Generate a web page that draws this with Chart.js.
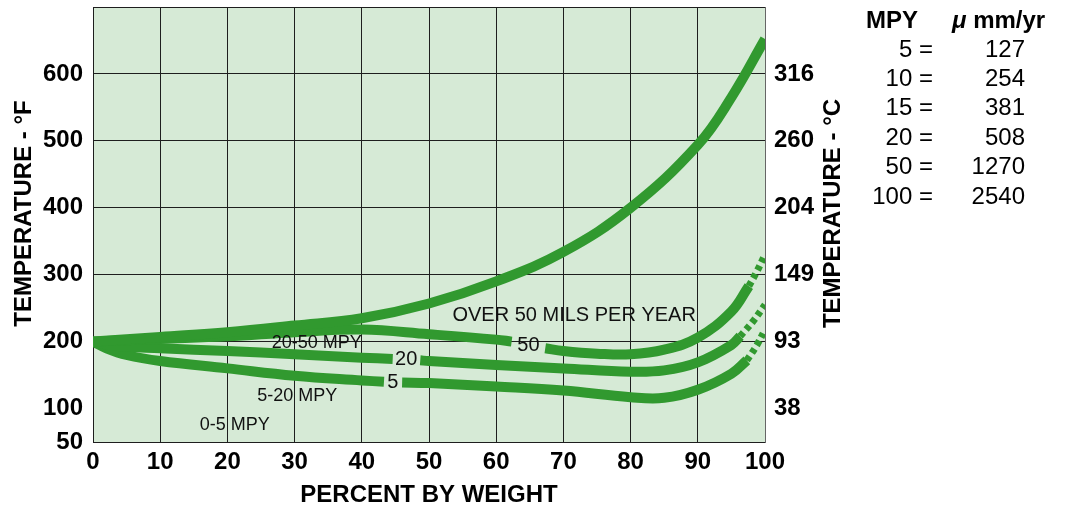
<!DOCTYPE html>
<html>
<head>
<meta charset="utf-8">
<script src="https://cdn.jsdelivr.net/npm/chart.js@4.4.1/dist/chart.umd.min.js"></script>
<style>
  html, body { margin: 0; padding: 0; background: #fff; }
</style>
</head>
<body>
<canvas id="chart" width="1074" height="513"></canvas>
<script>
const FONT = '"Liberation Sans", Arial, Helvetica, sans-serif';
const GREEN = '#31992f';
const GRID = '#1e1e1e';

// axes
const pctTicks = [0, 10, 20, 30, 40, 50, 60, 70, 80, 90, 100];
const degFTicks = [50, 100, 200, 300, 400, 500, 600, 700];
const degCTickF = [100, 200, 300, 400, 500, 600];
const degCLabels = ['38', '93', '149', '204', '260', '316'];

// upper limit of the "over 50 MPY" region
const topPct  = [0, 10, 20, 30, 40, 50, 60, 70, 80, 90, 95, 100];
const topDegF = [200, 207, 214, 224, 235, 257, 290, 334, 400, 494, 565, 652];

// 50 MPY curve (gap where the label sits)
const fiftyPct  = [0, 10, 20, 30, 40, 50, 60, 62.3, 64.8, 67.3, 70, 75, 80, 85, 90, 95, 97.6];
const fiftyDegF = [200, 204, 208, 214, 218, 211, 203, 200, null, 190, 186, 182, 181, 188, 206, 245, 283];
const fiftyDashPct  = [97.6, 98.8, 100];
const fiftyDashDegF = [283, 305, 330];

// 20 MPY curve
const twentyPct  = [0, 3, 10, 20, 30, 40, 44.6, 46.6, 48.7, 50, 60, 70, 80, 85, 90, 95, 96.3];
const twentyDegF = [200, 194, 190, 186, 181, 176, 174, null, 172, 171, 165, 160, 155, 157, 169, 195, 208];
const twentyDashPct  = [96.3, 98.2, 100];
const twentyDashDegF = [208, 230, 255];

// 5 MPY curve
const fivePct  = [0, 2, 5, 10, 20, 30, 40, 43.3, 44.6, 46, 50, 60, 70, 80, 85, 90, 95, 97.3];
const fiveDegF = [200, 190, 180, 171, 160, 149, 142, 140, null, 139, 138, 133, 127, 117, 116, 128, 152, 172];
const fiveDashPct  = [97.3, 98.8, 100];
const fiveDashDegF = [172, 195, 218];

// conversion table
const mpyValues = [5, 10, 15, 20, 50, 100];
const umValues  = [127, 254, 381, 508, 1270, 2540];

// text inside the plot, anchored in data units
const regionText = ['OVER 50 MILS PER YEAR', '20-50 MPY', '5-20 MPY', '0-5 MPY'];
const regionPct  = [71.6, 33.3, 30.4, 21.1];
const regionDegF = [239, 198.5, 118, 75.4];
const curveText = ['50', '20', '5'];
const curvePct  = [64.8, 46.6, 44.6];
const curveDegF = [193.5, 173, 139];

const pts = (xs, ys) => xs.map((x, i) => ({ x: x, y: ys[i] }));

function curve(xs, ys, dashed) {
  return {
    data: pts(xs, ys),
    borderColor: GREEN,
    borderWidth: dashed ? 7 : 10,
    borderDash: dashed ? [5, 4] : [],
    pointRadius: 0,
    fill: false,
    tension: 0.4,
    spanGaps: false,
    yAxisID: 'y'
  };
}

const plotBackground = {
  id: 'plotBackground',
  beforeDraw(chart) {
    const { ctx, chartArea: a } = chart;
    ctx.save();
    ctx.fillStyle = '#d6ead6';
    ctx.fillRect(a.left, a.top, a.right - a.left, a.bottom - a.top);
    ctx.restore();
  }
};

const plotText = {
  id: 'plotText',
  afterDatasetsDraw(chart) {
    const { ctx, scales: { x, y } } = chart;
    ctx.save();
    ctx.fillStyle = '#111';
    ctx.textAlign = 'center';
    ctx.textBaseline = 'middle';
    regionText.forEach((t, i) => {
      ctx.font = (i === 0 ? '20px ' : '18px ') + FONT;
      ctx.fillText(t, x.getPixelForValue(regionPct[i]), y.getPixelForValue(regionDegF[i]));
    });
    ctx.font = '20px ' + FONT;
    curveText.forEach((t, i) => {
      ctx.fillText(t, x.getPixelForValue(curvePct[i]), y.getPixelForValue(curveDegF[i]));
    });
    ctx.restore();
  }
};

// both temperature titles read bottom-to-top in the original
const sideTitles = {
  id: 'sideTitles',
  afterDraw(chart) {
    const ctx = chart.ctx;
    const mid = 213.5;
    ctx.save();
    ctx.fillStyle = '#000';
    ctx.font = 'bold 24px ' + FONT;
    ctx.textAlign = 'center';
    ctx.textBaseline = 'middle';
    [[24.5, 'TEMPERATURE - \u00b0F'], [833, 'TEMPERATURE - \u00b0C']].forEach(([cx, t]) => {
      ctx.save();
      ctx.translate(cx, mid);
      ctx.rotate(-Math.PI / 2);
      ctx.fillText(t, 0, 0);
      ctx.restore();
    });
    ctx.restore();
  }
};

const unitTable = {
  id: 'unitTable',
  afterDraw(chart) {
    const ctx = chart.ctx;
    ctx.save();
    ctx.fillStyle = '#000';
    ctx.textBaseline = 'middle';
    ctx.textAlign = 'left';
    ctx.font = 'bold 24px ' + FONT;
    ctx.fillText('MPY', 866, 21);
    ctx.font = 'italic bold 24px ' + FONT;
    ctx.fillText('\u03bc', 952, 21);
    const mu = ctx.measureText('\u03bc').width;
    ctx.font = 'bold 24px ' + FONT;
    ctx.fillText(' mm/yr', 952 + mu, 21);
    ctx.font = '24px ' + FONT;
    ctx.textAlign = 'right';
    mpyValues.forEach((m, i) => {
      const yy = 50 + i * 29.4;
      ctx.fillText(m + ' =', 933, yy);
      ctx.fillText(String(umValues[i]), 1025, yy);
    });
    ctx.restore();
  }
};

const tickFont = { family: FONT, size: 24, weight: 'bold' };
const titleFont = { family: FONT, size: 24, weight: 'bold' };

// fixed axis sizes so the plot box lands where the original has it
const fitVertical = w => s => { s.width = w; s.paddingTop = 0; s.paddingBottom = 0; };

new Chart(document.getElementById('chart'), {
  type: 'line',
  data: {
    datasets: [
      curve(topPct, topDegF),
      curve(fiftyPct, fiftyDegF),
      curve(fiftyDashPct, fiftyDashDegF, true),
      curve(twentyPct, twentyDegF),
      curve(twentyDashPct, twentyDashDegF, true),
      curve(fivePct, fiveDegF),
      curve(fiveDashPct, fiveDashDegF, true)
    ]
  },
  options: {
    responsive: false,
    animation: false,
    layout: { padding: { top: 7, left: 0, right: 224, bottom: 0 } },
    plugins: {
      legend: { display: false },
      tooltip: { enabled: false }
    },
    scales: {
      x: {
        type: 'linear',
        min: 0,
        max: 100,
        afterBuildTicks: s => { s.ticks = pctTicks.map(v => ({ value: v })); },
        afterFit: s => { s.height = 71; },
        ticks: { font: tickFont, color: '#000', padding: 6, autoSkip: false, maxRotation: 0 },
        grid: { color: GRID, lineWidth: 1, drawTicks: false },
        border: { color: GRID, width: 1 },
        title: { display: true, text: 'PERCENT BY WEIGHT', font: titleFont, color: '#000', padding: { top: 0, bottom: 3 } }
      },
      y: {
        type: 'linear',
        position: 'left',
        min: 50,
        max: 700,
        afterBuildTicks: s => { s.ticks = degFTicks.map(v => ({ value: v })); },
        afterFit: fitVertical(93),
        ticks: {
          font: tickFont, color: '#000', padding: 10, autoSkip: false,
          callback: v => (v === 700 ? '' : v)
        },
        grid: {
          color: c => (c.tick && c.tick.value === 100 ? 'rgba(0,0,0,0)' : GRID),
          lineWidth: 1,
          drawTicks: false
        },
        border: { color: GRID, width: 1 }
      },
      y2: {
        type: 'linear',
        position: 'right',
        min: 50,
        max: 700,
        afterBuildTicks: s => { s.ticks = degCTickF.map(v => ({ value: v })); },
        afterFit: fitVertical(85),
        ticks: {
          font: tickFont, color: '#000', padding: 9, autoSkip: false,
          callback: (v, i) => degCLabels[i]
        },
        grid: { display: false, drawTicks: false },
        border: { display: true, color: '#666', width: 1 }
      }
    }
  },
  plugins: [plotBackground, plotText, sideTitles, unitTable]
});
</script>
</body>
</html>
